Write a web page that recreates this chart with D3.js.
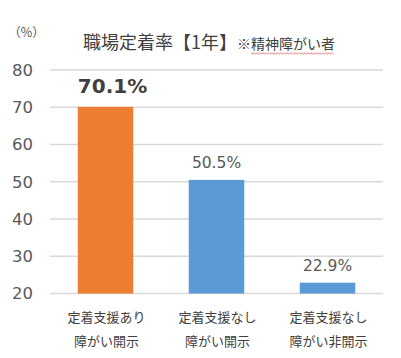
<!DOCTYPE html>
<html><head><meta charset="utf-8">
<script src="https://cdn.jsdelivr.net/npm/d3@7"></script>
<style>
html,body{margin:0;padding:0;background:#fff;}
svg{display:block;}
</style></head>
<body>
<svg id="c" width="401" height="358"></svg>
<script>
const categoriesLine1 = ["定着支援あり", "定着支援なし", "定着支援なし"];
const categoriesLine2 = ["障がい開示", "障がい開示", "障がい非開示"];
const values = [70.1, 50.5, 22.9];
const highlight = [true, false, false];
const yTicks = [20, 30, 40, 50, 60, 70, 80];
const titleMain = "職場定着率【1年】";
const titleNote = "※精神障がい者";
const unitLabel = "（%）";

const JP = "'Noto Sans CJK JP', 'Noto Sans', sans-serif";
const NUM = "'DejaVu Sans', Verdana, sans-serif";

const svg = d3.select("#c");
const keys = values.map((d, i) => i);
const x = d3.scaleBand().domain(keys).range([50, 383]).paddingInner(0.5).paddingOuter(0.25);
const y = d3.scaleLinear().domain([20, 80]).range([293.5, 70]);

// gridlines
svg.append("g").selectAll("line").data(yTicks).join("line")
  .attr("x1", 50).attr("x2", 383)
  .attr("y1", d => y(d)).attr("y2", d => y(d))
  .attr("stroke", "#d9d9d9").attr("stroke-width", 1.5);

// y axis labels
const yAxis = d3.axisLeft(y).tickValues(yTicks).tickSize(0).tickPadding(0);
const ga = svg.append("g").attr("transform", "translate(33,0)").call(yAxis);
ga.select(".domain").remove();
ga.selectAll("text").attr("font-family", NUM).attr("font-size", 16.5).attr("fill", "#595959");

// bars
svg.append("g").selectAll("rect").data(values).join("rect")
  .attr("x", (d, i) => x(i)).attr("width", x.bandwidth())
  .attr("y", d => y(d)).attr("height", d => y(20) - y(d))
  .attr("fill", (d, i) => highlight[i] ? "#ed7d31" : "#5b9bd5");

// value labels
svg.append("g").selectAll("text").data(values).join("text")
  .attr("x", (d, i) => x(i) + x.bandwidth() / 2 + (highlight[i] ? 7 : 0))
  .attr("y", (d, i) => y(d) - (highlight[i] ? 13.5 : 12))
  .attr("text-anchor", "middle")
  .attr("font-family", NUM)
  .attr("font-weight", (d, i) => highlight[i] ? "bold" : "normal")
  .attr("font-size", (d, i) => highlight[i] ? 20 : 15.5)
  .attr("fill", (d, i) => highlight[i] ? "#404040" : "#595959")
  .text(d => d.toFixed(1) + "%");

// category labels
const cg = svg.append("g").selectAll("text").data(keys).join("text")
  .attr("text-anchor", "middle")
  .attr("font-family", JP).attr("font-size", 13).attr("fill", "#404040");
cg.append("tspan").attr("x", i => x(i) + x.bandwidth() / 2 + 1).attr("y", 322).text(i => categoriesLine1[i]);
cg.append("tspan").attr("x", i => x(i) + x.bandwidth() / 2 + 1).attr("y", 346).text(i => categoriesLine2[i]);

// unit
svg.append("text").attr("x", 26.5).attr("y", 37).attr("text-anchor", "middle")
  .attr("font-family", JP).attr("font-size", 12.5).attr("fill", "#595959").text(unitLabel);

// title
const t = svg.append("text").attr("x", 83).attr("y", 49)
  .attr("font-family", JP).attr("fill", "#404040");
t.append("tspan").attr("font-size", 18).text(titleMain);
const note = t.append("tspan").attr("font-size", 14).attr("dx", 0).text(titleNote);

// spell-check style wavy underline under part of the note
const tl = t.node().getComputedTextLength();
const noteStart = 83 + tl - note.node().getComputedTextLength();
const ux0 = noteStart + 14, ux1 = 83 + tl - 1, uy = 53;
const pts = d3.range(ux0, ux1, 1.5).map((px, k) => [px, uy + (k % 2 ? 1 : -0.2)]);
svg.append("path").attr("d", d3.line()(pts)).attr("fill", "none")
  .attr("stroke", "#e06060").attr("stroke-width", 0.8);
</script>
</body></html>
